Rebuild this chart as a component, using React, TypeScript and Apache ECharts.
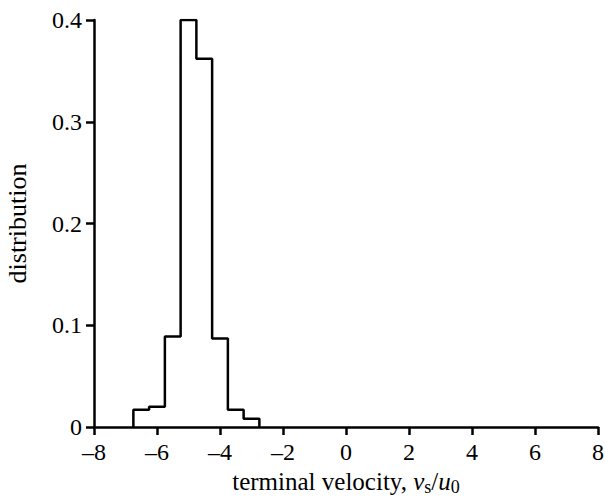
import React, { useEffect, useRef } from "react";
import * as echarts from "echarts";

const binEdges = [-6.75, -6.25, -5.75, -5.25, -4.75, -4.25, -3.75, -3.25, -2.75];
const binValues = [0.017, 0.02, 0.089, 0.4, 0.362, 0.087, 0.017, 0.008];
const xTicks = { min: -8, max: 8, interval: 2 };
const yTicks = { min: 0, max: 0.4, interval: 0.1 };

const FONT = "Liberation Serif";

export default function App() {
  const ref = useRef<HTMLDivElement>(null);
  useEffect(() => {
    if (!ref.current) return;
    const chart = echarts.init(ref.current, null, { renderer: "svg" });
    const data: number[][] = [[binEdges[0], 0]];
    binValues.forEach((v, i) => data.push([binEdges[i], v]));
    const last = binEdges[binEdges.length - 1];
    data.push([last, binValues[binValues.length - 1]]);
    data.push([last, 0]);

    const axisLine = { show: true, onZero: false, lineStyle: { color: "#000", width: 2.5 } };
    const axisTick = { show: true, inside: false, length: 8, lineStyle: { color: "#000", width: 2.5 } };

    chart.setOption({
      animation: false,
      backgroundColor: "#fff",
      textStyle: { fontFamily: FONT },
      grid: { left: 94, right: 7, top: 20, bottom: 70, containLabel: false, outerBoundsMode: "none" },
      xAxis: {
        type: "value",
        min: xTicks.min,
        max: xTicks.max,
        interval: xTicks.interval,
        axisLine,
        axisTick,
        splitLine: { show: false },
        axisLabel: {
          color: "#000",
          fontFamily: FONT,
          fontSize: 24,
          margin: 13,
          formatter: (v: number) => (v < 0 ? "\u2013" + Math.abs(v) : String(v)),
        },
        name: "terminal velocity, {i|v}{sub|s}{n|/}{i|u}{sub|0}",
        nameLocation: "middle",
        nameGap: 32,
        nameTextStyle: {
          color: "#000",
          fontFamily: FONT,
          fontSize: 25,
          rich: {
            i: { fontFamily: FONT, fontStyle: "italic", fontSize: 25, color: "#000" },
            n: { fontFamily: FONT, fontSize: 25, color: "#000" },
            sub: { fontFamily: FONT, fontSize: 18, color: "#000", padding: [12, 0, 0, 0] },
          },
        },
      },
      yAxis: {
        type: "value",
        min: yTicks.min,
        max: yTicks.max,
        interval: yTicks.interval,
        axisLine,
        axisTick,
        splitLine: { show: false },
        axisLabel: {
          color: "#000",
          fontFamily: FONT,
          fontSize: 24,
          margin: 12,
          formatter: (v: number) => (v === 0 ? "0" : v.toFixed(1)),
        },
        name: "distribution",
        nameLocation: "middle",
        nameGap: 64,
        nameTextStyle: { color: "#000", fontFamily: FONT, fontSize: 26 },
      },
      series: [
        {
          type: "line",
          step: "end",
          data,
          symbol: "none",
          lineStyle: { color: "#000", width: 2.5 },
        },
      ],
    });
    return () => chart.dispose();
  }, []);
  return (
    <div
      ref={ref}
      style={{ position: "fixed", left: 0, top: 0, width: 605, height: 497, background: "#fff" }}
    />
  );
}
